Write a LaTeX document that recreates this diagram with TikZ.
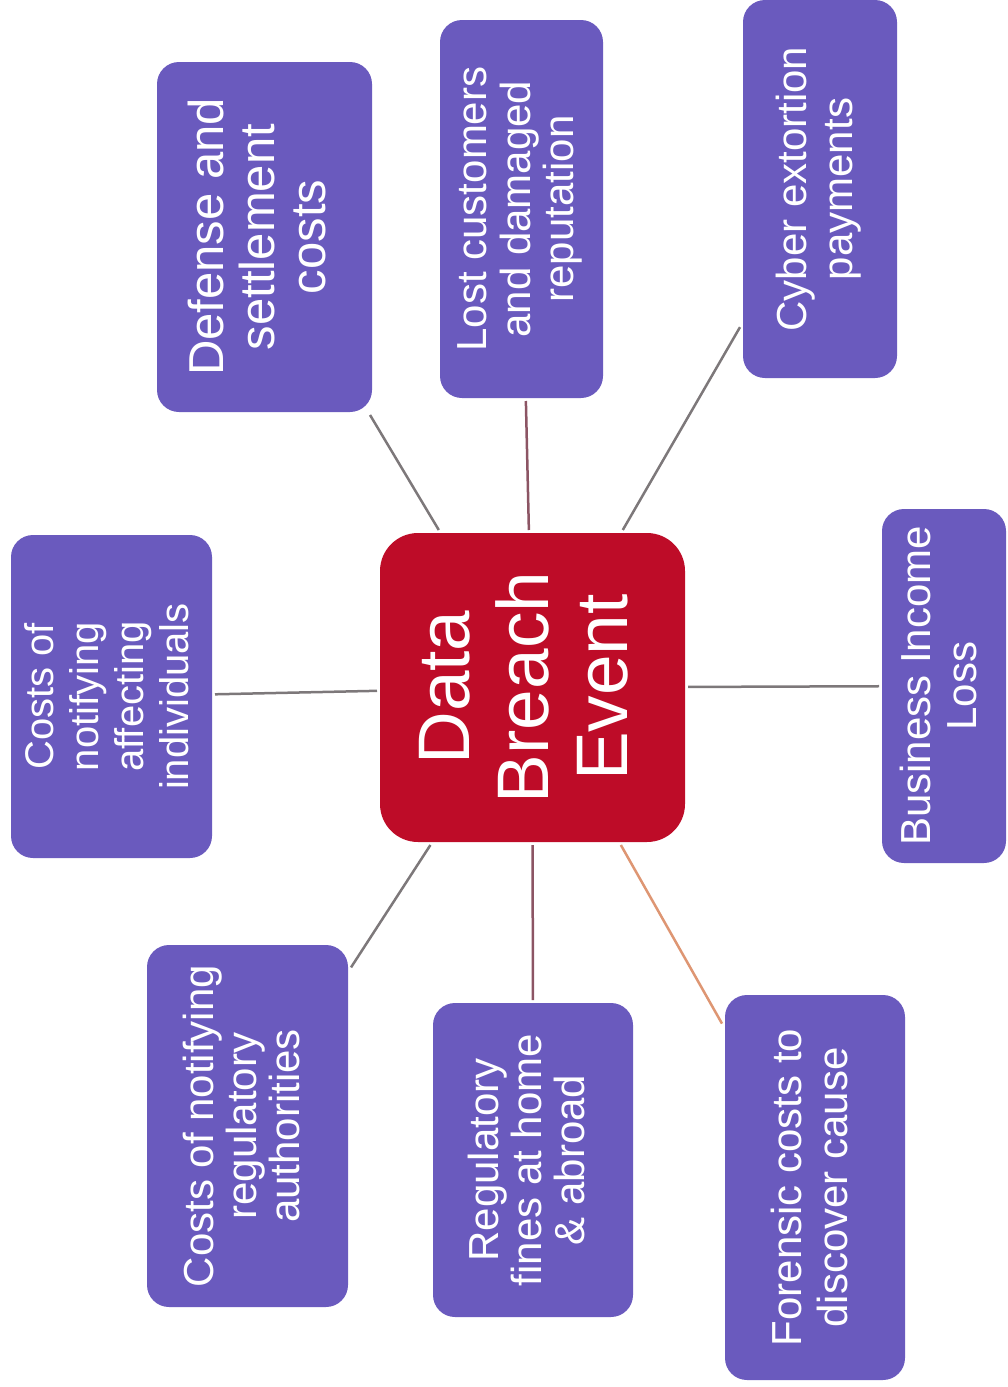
\documentclass[tikz,border=0pt]{standalone}
\usepackage{fontspec}
\setmainfont{Liberation Sans}
\usepackage{graphicx}
\definecolor{boxblue}{RGB}{106,90,190}
\definecolor{evred}{RGB}{190,12,40}
\definecolor{lngray}{RGB}{125,120,122}
\definecolor{lnred}{RGB}{140,85,100}
\definecolor{lnorange}{RGB}{222,150,115}
\newcommand\rtxt[3]{\fontsize{#1}{#2}\selectfont\rotatebox{90}{\begin{tabular}{@{}c@{}}#3\end{tabular}}}
\begin{document}
\begin{tikzpicture}[x=1pt,y=-1pt,
  itembox/.style={rectangle, rounded corners=22pt, fill=boxblue, text=white, inner sep=0pt, outer sep=3pt},
  evbox/.style={rectangle, rounded corners=38pt, fill=evred, text=white, inner sep=0pt, outer sep=3pt},
  conn/.style={line width=2.5pt, draw=lngray}]
\useasboundingbox (0,0) rectangle (1007,1387);
\node[evbox, minimum width=305pt, minimum height=309pt] (ctr) at (532.5,687.5) {\rtxt{73}{79}{Data\\Breach\\Event}};
\node[itembox, minimum width=201pt, minimum height=323pt] (b1) at (111.5,696.5) {\rtxt{40}{45}{Costs of\\notifying\\affecting\\individuals}};
\node[itembox, minimum width=215pt, minimum height=350pt] (b2) at (264.5,237) {\rtxt{49}{51}{Defense and\\settlement\\costs}};
\node[itembox, minimum width=163pt, minimum height=378pt] (b3) at (521.5,209) {\rtxt{42}{43}{Lost customers\\and damaged\\reputation}};
\node[itembox, minimum width=154pt, minimum height=378pt] (b4) at (820,189) {\rtxt{42}{46}{Cyber extortion\\payments}};
\node[itembox, minimum width=124pt, minimum height=354pt] (b5) at (944,686) {\rtxt{42}{46}{Business Income\\Loss}};
\node[itembox, minimum width=180pt, minimum height=385pt] (b6) at (815,1187.5) {\rtxt{42}{46}{Forensic costs to\\discover cause}};
\node[itembox, minimum width=200pt, minimum height=314pt] (b7) at (533,1160) {\rtxt{42}{42}{Regulatory\\fines at home\\\& abroad}};
\node[itembox, minimum width=201pt, minimum height=362pt] (b8) at (247.5,1126) {\rtxt{42}{42}{Costs of notifying\\regulatory\\authorities}};
\draw[conn] (ctr) -- (b1);
\draw[conn] (ctr) -- (b2);
\draw[conn, draw=lnred] (ctr) -- (b3);
\draw[conn] (ctr) -- (b4);
\draw[conn] (ctr) -- (b5);
\draw[conn, draw=lnorange] (ctr) -- (b6);
\draw[conn, draw=lnred] (ctr) -- (b7);
\draw[conn] (ctr) -- (b8);
\end{tikzpicture}
\end{document}
